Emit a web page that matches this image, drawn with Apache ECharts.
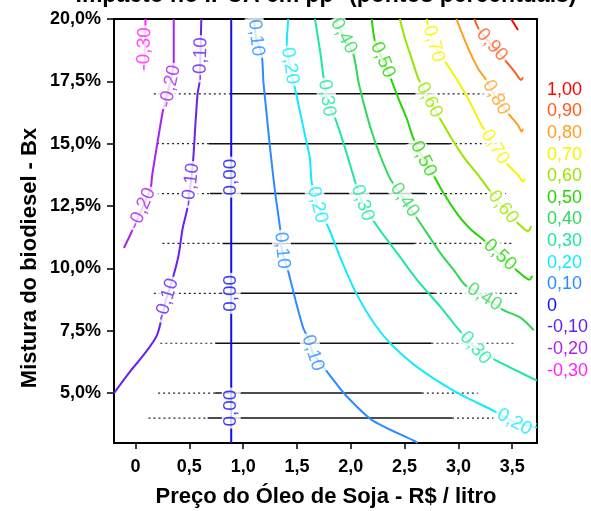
<!DOCTYPE html>
<html>
<head>
<meta charset="utf-8">
<script src="https://cdn.jsdelivr.net/npm/echarts@6/dist/echarts.min.js"></script>
<style>
  html, body { margin: 0; padding: 0; background: #fff; }
  #chart { width: 591px; height: 511px; }
</style>
</head>
<body>
<div id="chart"></div>
<script>
// Tick values
const xTicks = [0, 0.5, 1, 1.5, 2, 2.5, 3, 3.5];
const yTicks = [5, 7.5, 10, 12.5, 15, 17.5, 20];

// Contour levels (impact in percentage points) and their colours
const levels = [1.0, 0.9, 0.8, 0.7, 0.6, 0.5, 0.4, 0.3, 0.2, 0.1, 0, -0.1, -0.2, -0.3];
const levelColors = ['#ff0000', '#ff5a1e', '#ff9d1e', '#f4f400', '#9be600', '#26d400', '#30d858',
                     '#1fe6a0', '#12eaff', '#2a8cff', '#1010f0', '#6622f0', '#aa22ee', '#ff22ff'];

// Contour lines: [oil price R$/l, blend %]
const c100 = [[3.49, 20], [3.553, 19.56]];
const c090 = [[3.148, 20], [3.194, 19.56], [3.306, 18.96], [3.444, 18.29], [3.521, 17.89], [3.583, 17.55], [3.6, 17.66]];
const c080 = [[2.981, 20], [3.09, 18.83], [3.182, 18.02], [3.259, 17.55], [3.35, 16.85], [3.475, 16.15], [3.553, 15.75], [3.588, 15.48], [3.6, 15.6]];
const c070 = [[2.704, 20], [2.77, 19.0], [2.889, 18.22], [2.997, 17.49], [3.105, 16.68], [3.213, 15.75], [3.34, 14.87], [3.46, 14.15], [3.553, 13.75], [3.599, 13.48], [3.614, 13.6]];
const c060 = [[2.456, 20], [2.503, 19.23], [2.565, 18.42], [2.627, 17.62], [2.73, 16.75], [2.827, 16.02], [2.935, 15.22], [3.058, 14.41], [3.182, 13.75], [3.275, 13.21], [3.415, 12.46], [3.553, 11.81], [3.648, 11.5], [3.676, 11.7]];
const c050 = [[2.194, 20], [2.225, 19.09], [2.297, 18.36], [2.364, 17.69], [2.442, 16.82], [2.519, 16.02], [2.581, 15.22], [2.675, 14.39], [2.766, 13.75], [2.873, 12.94], [2.997, 12.14], [3.12, 11.54], [3.213, 11.22], [3.386, 10.54], [3.553, 9.88], [3.66, 9.55], [3.685, 9.7]];
const c040 = [[1.852, 20], [1.934, 19.32], [2.025, 18.56], [2.071, 17.49], [2.132, 16.42], [2.194, 15.48], [2.271, 14.55], [2.364, 13.61], [2.5, 12.74], [2.657, 11.74], [2.843, 10.55], [2.966, 9.88], [3.058, 9.35], [3.24, 8.85], [3.414, 8.34], [3.583, 8.01], [3.7, 7.52]];
const c030 = [[1.667, 20], [1.713, 18.76], [1.778, 16.83], [1.855, 16.02], [1.947, 14.82], [2.04, 13.48], [2.11, 12.62], [2.25, 11.66], [2.442, 10.55], [2.627, 9.48], [2.843, 8.41], [2.966, 7.74], [3.157, 6.81], [3.336, 6.34], [3.521, 5.94], [3.73, 5.5]];
const c020 = [[1.419, 20], [1.405, 18.96], [1.435, 18.08], [1.481, 17.22], [1.528, 16.28], [1.574, 15.35], [1.62, 14.41], [1.636, 13.48], [1.69, 12.55], [1.794, 11.62], [1.917, 10.28], [2.056, 8.95], [2.225, 7.74], [2.38, 6.94], [2.627, 6.01], [2.966, 5.07], [3.336, 4.27], [3.52, 3.84], [3.73, 3.62]];
const c010 = [[1.102, 20], [1.12, 19.24], [1.173, 18.56], [1.188, 17.49], [1.219, 16.15], [1.25, 14.82], [1.296, 13.08], [1.343, 11.61], [1.361, 10.72], [1.419, 9.88], [1.481, 8.81], [1.558, 7.61], [1.604, 7.21], [1.648, 6.61], [1.731, 6.14], [1.824, 5.61], [1.947, 4.94], [2.194, 3.93], [2.595, 3.07], [2.62, 3.0]];
const c000 = [[0.889, 3], [0.889, 20]];
const cm010 = [[0.611, 20], [0.595, 17.49], [0.577, 17.02], [0.556, 15.75], [0.534, 14.28], [0.484, 12.47], [0.438, 11.61], [0.401, 10.55], [0.355, 9.75], [0.28, 8.7], [0.201, 7.34], [0.077, 6.54], [-0.046, 5.89], [-0.2, 5.0]];
const cm020 = [[0.355, 20], [0.355, 18.29], [0.256, 16.35], [0.231, 15.75], [0.185, 14.55], [0.155, 13.75], [0.139, 13.21], [-0.037, 11.46], [-0.108, 10.82]];
const cm030 = [[0.093, 20], [0.088, 18.96], [0.079, 17.87]];

// Inline label anchors on each contour
const l100 = [];
const l090 = [[3.312, 18.96]];
const l080 = [[3.35, 16.85]];
const l070 = [[2.77, 19.0], [3.34, 14.87]];
const l060 = [[2.73, 16.75], [3.415, 12.46]];
const l050 = [[2.297, 18.36], [2.675, 14.39], [3.386, 10.54]];
const l040 = [[1.934, 19.32], [2.5, 12.74], [3.24, 8.85]];
const l030 = [[1.778, 16.83], [2.11, 12.62], [3.157, 6.81]];
const l020 = [[1.435, 18.12], [1.69, 12.55], [3.52, 3.84]];
const l010 = [[1.12, 19.24], [1.361, 10.72], [1.648, 6.61]];
const l000 = [[0.889, 13.66], [0.889, 9.0], [0.889, 4.4]];
const lm010 = [[0.605, 18.4], [0.512, 13.36], [0.29, 8.75]];
const lm020 = [[0.322, 17.3], [0.06, 12.4]];
const lm030 = [[0.082, 18.8]];

const contourLines = [c100, c090, c080, c070, c060, c050, c040, c030, c020, c010, c000, cm010, cm020, cm030];
const contourLabels = [l100, l090, l080, l070, l060, l050, l040, l030, l020, l010, l000, lm010, lm020, lm030];

// Simulated blend levels (horizontal runs): blend %, dotted start, solid start, solid end, dotted end
const runLevels = [17, 15, 13, 11, 9, 7, 5, 4];
const runDotStart = [0.17, 0.2, 0.2, 0.25, 0.17, 0.23, 0.21, 0.12];
const runSolidStart = [0.88, 0.68, 0.69, 0.81, 0.79, 0.74, 0.74, 0.67];
const runSolidEnd = [2.76, 2.92, 2.69, 2.59, 2.78, 2.75, 2.66, 2.94];
const runDotEnd = [3.44, 3.38, 3.44, 3.51, 3.56, 3.51, 3.18, 3.33];

const FONT = '"Liberation Sans", Arial, Helvetica, sans-serif';
const fmtLegend = v => v === 0 ? '0' : v.toFixed(2).replace('.', ',');
const fmtInline = v => v.toFixed(2).replace('.', ',');

const chart = echarts.init(document.getElementById('chart'), null, { renderer: 'canvas' });

const plainLine = {
  type: 'line', symbol: 'none', showSymbol: false, silent: true,
  animation: false, emphasis: { disabled: true }
};

const series = [];
runLevels.forEach((y, i) => {
  series.push(Object.assign({}, plainLine, {
    data: [[runDotStart[i], y], [runSolidStart[i], y]], z: 2,
    lineStyle: { color: '#222', width: 1.2, type: [2, 3] }
  }));
  series.push(Object.assign({}, plainLine, {
    data: [[runSolidStart[i], y], [runSolidEnd[i], y]], z: 2,
    lineStyle: { color: '#111', width: 1.5 }
  }));
  series.push(Object.assign({}, plainLine, {
    data: [[runSolidEnd[i], y], [runDotEnd[i], y]], z: 2,
    lineStyle: { color: '#222', width: 1.2, type: [2, 3] }
  }));
});

levels.forEach((v, i) => {
  series.push(Object.assign({}, plainLine, {
    name: fmtLegend(v), data: contourLines[i], z: 3, smooth: 0.25,
    color: levelColors[i],
    lineStyle: { color: levelColors[i], width: 2 }
  }));
});

function labelData(rotFn) {
  const out = [];
  levels.forEach((v, i) => {
    contourLabels[i].forEach(p => {
      out.push({
        value: p,
        label: { color: levelColors[i], rotate: rotFn ? rotFn(i, p) : 0, formatter: fmtInline(v) }
      });
    });
  });
  return out;
}

series.push({
  id: 'inlineLabels', type: 'scatter', symbol: 'circle', symbolSize: 2, silent: true,
  animation: false, z: 6, itemStyle: { color: 'rgba(255,255,255,0)' },
  label: {
    show: true, position: 'inside', fontSize: 19, fontFamily: FONT,
    backgroundColor: '#ffffff', padding: [0, 2]
  },
  labelLayout: { hideOverlap: false },
  data: labelData(null)
});

chart.setOption({
  animation: false,
  grid: { left: 114, top: 19, width: 423, height: 424, show: true, borderColor: '#000', borderWidth: 2 },
  xAxis: {
    type: 'value', min: -0.2, max: 3.73,
    axisLine: { show: true, onZero: false, lineStyle: { color: '#000', width: 2 } },
    splitLine: { show: false },
    axisTick: { show: true, length: 6, customValues: xTicks, lineStyle: { color: '#000', width: 1.5 } },
    axisLabel: {
      customValues: xTicks, margin: 15, color: '#000', fontSize: 18, fontWeight: 'bold', fontFamily: FONT,
      formatter: v => v === 0 ? '0' : v.toFixed(1).replace('.', ',')
    }
  },
  yAxis: {
    type: 'value', min: 3, max: 20,
    axisLine: { show: true, onZero: false, lineStyle: { color: '#000', width: 2 } },
    splitLine: { show: false },
    axisTick: { show: true, length: 7, customValues: yTicks, lineStyle: { color: '#000', width: 1.5 } },
    axisLabel: {
      customValues: yTicks, margin: 13, color: '#000', fontSize: 18, fontWeight: 'bold', fontFamily: FONT,
      formatter: v => v.toFixed(1).replace('.', ',') + '%'
    }
  },
  legend: {
    data: levels.map((v, i) => ({ name: fmtLegend(v), textStyle: { color: levelColors[i] } })),
    orient: 'vertical', left: 541, top: 79, padding: 0, itemGap: 0,
    itemWidth: 0, itemHeight: 0, selectedMode: false,
    itemStyle: { opacity: 0 }, lineStyle: { opacity: 0 },
    textStyle: { fontSize: 18, fontFamily: FONT, lineHeight: 21.6 }
  },
  graphic: [
    {
      type: 'text', x: 326, y: -4, silent: true,
      style: { text: 'Impacto no IPCA em pp* (pontos percentuais)', font: 'bold 23px ' + FONT,
               fill: '#000', align: 'center', verticalAlign: 'middle' }
    },
    {
      type: 'text', x: 326, y: 497, silent: true,
      style: { text: 'Preço do Óleo de Soja - R$ / litro', font: 'bold 22px ' + FONT,
               fill: '#000', align: 'center', verticalAlign: 'middle' }
    },
    {
      type: 'text', x: 30, y: 258, rotation: Math.PI / 2, silent: true,
      style: { text: 'Mistura do biodiesel - Bx', font: 'bold 22px ' + FONT,
               fill: '#000', align: 'center', verticalAlign: 'middle' }
    }
  ],
  series: series
});

// Orient each inline label along the local direction of its contour
function segDist(p, a, b) {
  const vx = b[0] - a[0], vy = b[1] - a[1];
  const len2 = vx * vx + vy * vy || 1;
  let t = ((p[0] - a[0]) * vx + (p[1] - a[1]) * vy) / len2;
  t = Math.max(0, Math.min(1, t));
  const dx = a[0] + t * vx - p[0], dy = a[1] + t * vy - p[1];
  return Math.sqrt(dx * dx + dy * dy);
}
function angleAt(i, pt) {
  const line = contourLines[i];
  const p = chart.convertToPixel({ gridIndex: 0 }, pt);
  let best = null, bestD = Infinity;
  for (let k = 0; k < line.length - 1; k++) {
    const a = chart.convertToPixel({ gridIndex: 0 }, line[k]);
    const b = chart.convertToPixel({ gridIndex: 0 }, line[k + 1]);
    const d = segDist(p, a, b);
    if (d < bestD) { bestD = d; best = [a, b]; }
  }
  let dx = best[1][0] - best[0][0], dy = best[1][1] - best[0][1];
  if (dx < 0 || (Math.abs(dx) < 1e-6 && dy > 0)) { dx = -dx; dy = -dy; }
  return Math.atan2(-dy, dx) * 180 / Math.PI;
}
chart.setOption({ series: [{ id: 'inlineLabels', data: labelData(angleAt) }] });
</script>
</body>
</html>
